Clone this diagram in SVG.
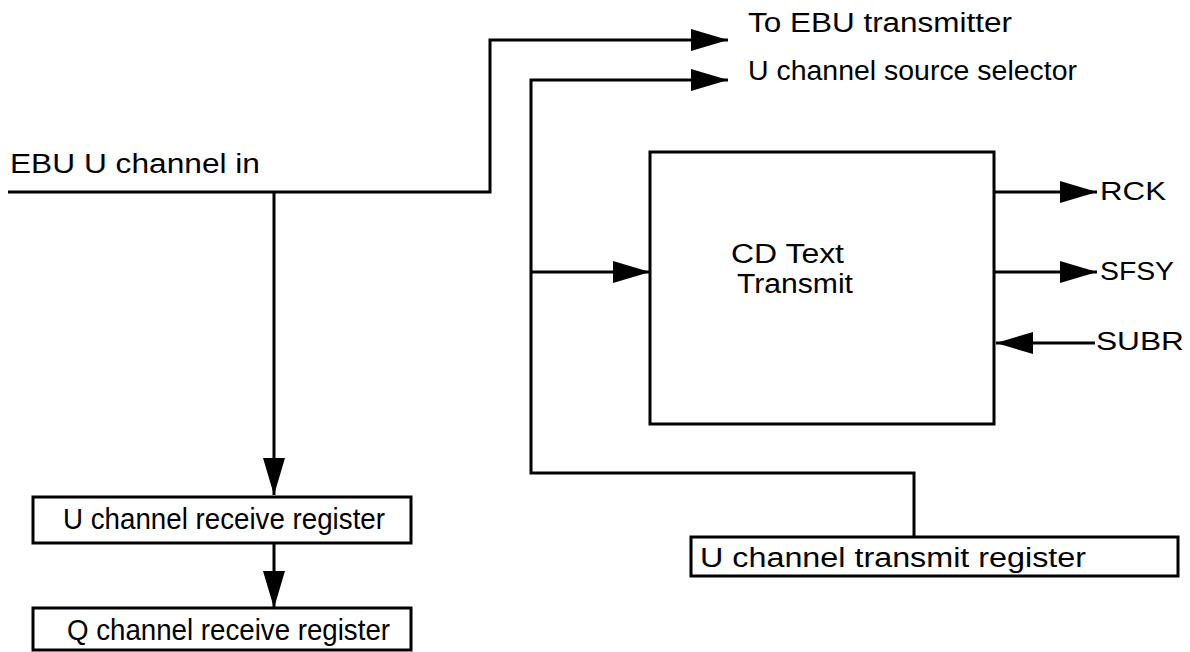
<svg xmlns="http://www.w3.org/2000/svg" width="1190" height="652" viewBox="0 0 1190 652">
<style>
.box{fill:#fff;stroke:#000;stroke-width:3}
.w{fill:none;stroke:#000;stroke-width:3}
text{font-family:"Liberation Sans",Arial,sans-serif;font-size:27px;fill:#000}
.s{font-size:26px}
.r{font-size:30px}
</style>
<defs>
<marker id="ah" markerUnits="userSpaceOnUse" markerWidth="37" markerHeight="22" refX="37" refY="11" orient="auto">
<path d="M0,0 L37,11 L0,22 z" fill="#000"/>
</marker>
</defs>
<g id="connectors">
<path class="w" d="M8,192 H490 V40 H728" marker-end="url(#ah)"/>
<path class="w" d="M274,192 V495" marker-end="url(#ah)"/>
<path class="w" d="M274,543 V608" marker-end="url(#ah)"/>
<path class="w" d="M914,537 V473 H531 V80 H728" marker-end="url(#ah)"/>
<path class="w" d="M531,272 H650" marker-end="url(#ah)"/>
<path class="w" d="M994,192 H1097" marker-end="url(#ah)"/>
<path class="w" d="M994,272 H1097" marker-end="url(#ah)"/>
<path class="w" d="M1095,343 H996" marker-end="url(#ah)"/>
</g>
<g id="labels">
<text x="748" y="32" textLength="264" lengthAdjust="spacingAndGlyphs">To EBU transmitter</text>
<text x="748" y="80" textLength="329" lengthAdjust="spacingAndGlyphs">U channel source selector</text>
<text x="10" y="173" textLength="250" lengthAdjust="spacingAndGlyphs">EBU U channel in</text>
<text class="s" x="1100" y="200" textLength="66" lengthAdjust="spacingAndGlyphs">RCK</text>
<text class="s" x="1100" y="280" textLength="74" lengthAdjust="spacingAndGlyphs">SFSY</text>
<text class="s" x="1096" y="350" textLength="88" lengthAdjust="spacingAndGlyphs">SUBR</text>
</g>
<g id="cdtext">
<rect class="box" x="650" y="152" width="344" height="272"/>
<text x="731" y="263" textLength="113" lengthAdjust="spacingAndGlyphs">CD Text</text>
<text x="737" y="293" textLength="116" lengthAdjust="spacingAndGlyphs">Transmit</text>
</g>
<g id="urecv">
<rect class="box" x="33" y="497" width="378" height="46"/>
<text class="r" x="63" y="529" textLength="322" lengthAdjust="spacingAndGlyphs">U channel receive register</text>
</g>
<g id="qrecv">
<rect class="box" x="33" y="608" width="378" height="42"/>
<text class="r" x="67" y="640" textLength="323" lengthAdjust="spacingAndGlyphs">Q channel receive register</text>
</g>
<g id="utx">
<rect class="box" x="691" y="537" width="487" height="39"/>
<text x="700" y="567" textLength="386" lengthAdjust="spacingAndGlyphs">U channel transmit register</text>
</g>
</svg>
